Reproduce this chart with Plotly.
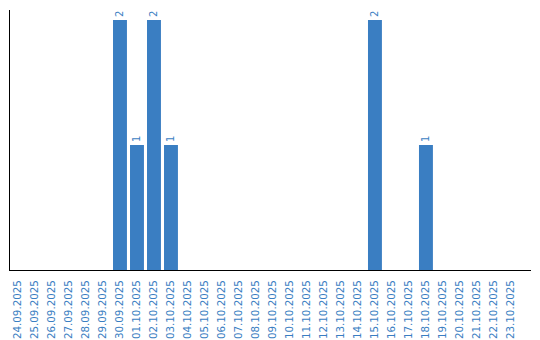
import plotly.graph_objects as go

dates = ["24.09.2025", "25.09.2025", "26.09.2025", "27.09.2025", "28.09.2025", "29.09.2025",
         "30.09.2025", "01.10.2025", "02.10.2025", "03.10.2025", "04.10.2025", "05.10.2025",
         "06.10.2025", "07.10.2025", "08.10.2025", "09.10.2025", "10.10.2025", "11.10.2025",
         "12.10.2025", "13.10.2025", "14.10.2025", "15.10.2025", "16.10.2025", "17.10.2025",
         "18.10.2025", "19.10.2025", "20.10.2025", "21.10.2025", "22.10.2025", "23.10.2025"]
counts = [0, 0, 0, 0, 0, 0, 2, 1, 2, 1, 0, 0, 0, 0, 0, 0, 0, 0, 0, 0, 0, 2, 0, 0, 1, 0, 0, 0, 0, 0]

blue = "#3a7ec2"
labels = [str(v) if v else "" for v in counts]

fig = go.Figure(go.Bar(
    x=list(range(len(dates))), y=counts,
    marker=dict(color=blue, line=dict(width=0)),
    text=labels, textposition="outside", textangle=-90,
    textfont=dict(family="DejaVu Sans", size=10, color=blue),
    cliponaxis=False,
))

fig.update_layout(
    width=540, height=340,
    margin=dict(l=10, r=9, t=10, b=70),
    paper_bgcolor="white", plot_bgcolor="white",
    bargap=0.18, showlegend=False,
    font=dict(family="DejaVu Sans", size=10, color=blue),
)
fig.update_xaxes(
    tickmode="array", tickvals=list(range(len(dates))), ticktext=dates,
    tickangle=-90, range=[-0.47, 30.18], automargin=False,
    showline=True, linecolor="black", linewidth=1,
    showgrid=False, zeroline=False, ticks="", ticklabelstandoff=5,
    tickfont=dict(family="DejaVu Sans", size=10.3, color=blue),
)
fig.update_yaxes(
    range=[0, 2.08], showline=True, linecolor="black", linewidth=1,
    showgrid=False, zeroline=False, showticklabels=False, ticks="",
    automargin=False,
)

fig.write_html("out.html")
